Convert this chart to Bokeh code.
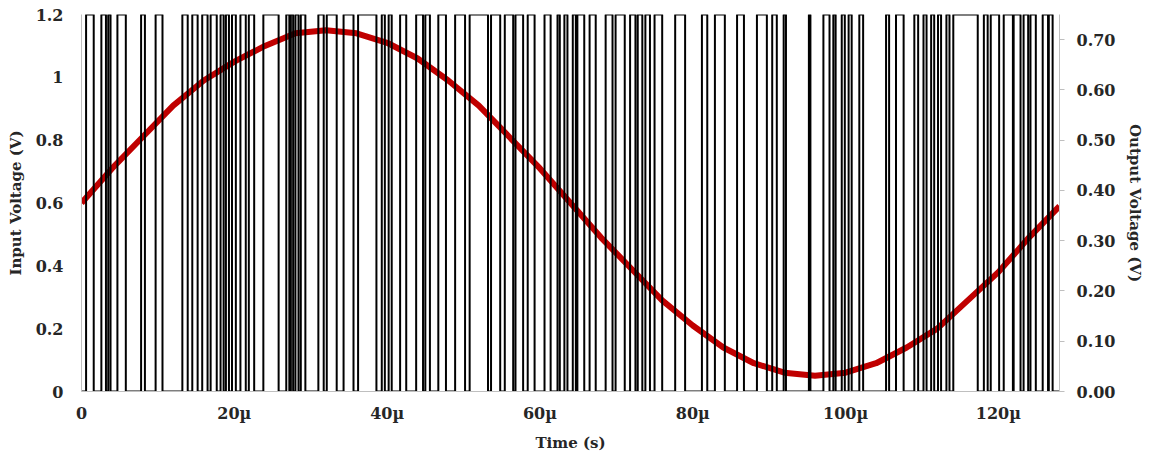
from bokeh.plotting import figure
from bokeh.models import Range1d, LinearAxis, FixedTicker
from bokeh.embed import file_html
from bokeh.resources import INLINE

# Input sine (V) read at 4 us spacing
t_in = [0, 4, 8, 12, 16, 20, 24, 28, 32, 36, 40, 44, 48, 52, 56, 60, 64,
        68, 72, 76, 80, 84, 88, 92, 96, 100, 104, 108, 112, 116, 120, 124, 128]
v_in = [0.60, 0.71, 0.81, 0.91, 0.99, 1.05, 1.10, 1.14, 1.15, 1.14, 1.11, 1.06,
        0.99, 0.91, 0.81, 0.71, 0.60, 0.49, 0.39, 0.29, 0.21, 0.14, 0.09, 0.06,
        0.05, 0.06, 0.09, 0.14, 0.20, 0.29, 0.38, 0.49, 0.59]

# Output bitstream: intervals (us) where output is high
high_start = [0.6, 2.6, 3.5, 4.7, 7.8, 9.7, 13.2, 14.5, 15.8, 16.9, 18.2, 18.9, 19.7,
              20.8, 21.9, 23.8, 26.8, 27.4, 28.0, 28.7, 31.0, 32.1, 34.3, 36.2,
              39.3, 40.2, 41.7, 43.8, 45.0, 46.7, 48.9, 50.8, 53.6, 55.4, 56.8,
              58.4, 60.6, 62.3, 63.2, 64.3, 64.9, 66.5, 68.6, 69.9, 71.8, 72.8,
              73.8, 75.0, 77.7, 81.2, 82.9, 85.8, 88.4, 90.4, 91.9, 95.2, 97.1,
              98.4, 99.5, 100.4, 101.8, 105.3, 106.6, 109.0, 110.2, 111.2, 112.1,
              113.2, 114.1, 118.1, 119.0, 120.7, 122.0, 123.3, 124.2, 125.8, 126.6]
high_end = [1.6, 3.2, 3.8, 5.8, 8.3, 10.6, 13.9, 15.2, 16.5, 17.7, 18.6, 19.3, 20.2,
            21.5, 22.6, 25.8, 27.2, 27.7, 28.4, 29.3, 31.7, 33.4, 35.6, 38.6,
            39.7, 40.6, 42.5, 44.7, 45.6, 47.7, 50.2, 53.2, 54.8, 56.5, 57.8,
            59.3, 61.4, 62.6, 63.6, 64.7, 65.8, 67.3, 69.5, 71.1, 72.5, 73.4,
            74.4, 76.0, 79.0, 81.9, 84.2, 86.7, 89.7, 91.0, 92.2, 95.4, 97.9,
            98.7, 99.9, 100.8, 102.3, 105.7, 107.6, 109.5, 110.6, 111.6, 112.5,
            113.6, 117.3, 118.6, 120.1, 121.9, 122.9, 123.9, 124.9, 126.5, 127.1]
OUT_HIGH = 0.75

x_ticks = [0, 20, 40, 60, 80, 100, 120]
x_tick_labels = ["0", "20µ", "40µ", "60µ", "80µ", "100µ", "120µ"]
y_ticks = [0, 0.2, 0.4, 0.6, 0.8, 1.0, 1.2]
y_tick_labels = ["0", "0.2", "0.4", "0.6", "0.8", "1", "1.2"]
y2_ticks = [0, 0.1, 0.2, 0.3, 0.4, 0.5, 0.6, 0.7]
y2_tick_labels = ["0.00", "0.10", "0.20", "0.30", "0.40", "0.50", "0.60", "0.70"]

FONT = "DejaVu Serif"

p = figure(frame_width=978, frame_height=377, output_backend="svg", toolbar_location=None,
           x_range=Range1d(0, 128), y_range=Range1d(0, 1.2),
           min_border_left=81, min_border_right=88, min_border_top=14, min_border_bottom=60)
p.extra_y_ranges = {"out": Range1d(0, 0.75)}
p.outline_line_color = None
p.grid.visible = False
p.background_fill_color = "white"

# step path for output
xs = [0.0]
ys = [0.0]
for s, e in zip(high_start, high_end):
    xs += [s, s, e, e]
    ys += [0, OUT_HIGH, OUT_HIGH, 0]
xs.append(128.0)
ys.append(0.0)

p.line(t_in, v_in, line_color="#c00000", line_width=6)
p.line(xs, ys, y_range_name="out", line_color="black", line_width=2)

# axes
p.xaxis.ticker = FixedTicker(ticks=x_ticks)
p.xaxis.major_label_overrides = dict(zip(x_ticks, x_tick_labels))
p.yaxis.ticker = FixedTicker(ticks=y_ticks)
p.yaxis.major_label_overrides = dict(zip(y_ticks, y_tick_labels))

ax2 = LinearAxis(y_range_name="out", ticker=FixedTicker(ticks=y2_ticks))
ax2.major_label_overrides = dict(zip(y2_ticks, y2_tick_labels))
p.add_layout(ax2, "right")

p.xaxis.axis_label = "Time (s)"
p.yaxis[0].axis_label = "Input Voltage (V)"
ax2.axis_label = "Output Voltage (V)"

for ax in [p.xaxis[0], p.yaxis[0], ax2]:
    ax.major_label_text_font = FONT
    ax.major_label_text_font_style = "bold"
    ax.major_label_text_font_size = "16px"
    ax.major_label_text_color = "#262626"
    ax.axis_label_text_font = FONT
    ax.axis_label_text_font_style = "bold"
    ax.axis_label_text_font_size = "15px"
    ax.axis_label_text_color = "#262626"
    ax.minor_tick_line_color = None
    ax.axis_line_color = "#bfbfbf"

p.xaxis.major_tick_line_color = None
p.yaxis[0].major_tick_line_color = None
ax2.major_tick_line_color = "#bfbfbf"
ax2.major_tick_out = 5
ax2.major_tick_in = 0
p.xaxis.axis_label_standoff = 8
p.xaxis.major_label_standoff = 6
p.yaxis[0].axis_label_standoff = 8
p.yaxis[0].major_label_standoff = 12
ax2.major_label_standoff = 12
ax2.axis_label_standoff = 8

open("out.html", "w").write(file_html(p, INLINE))
